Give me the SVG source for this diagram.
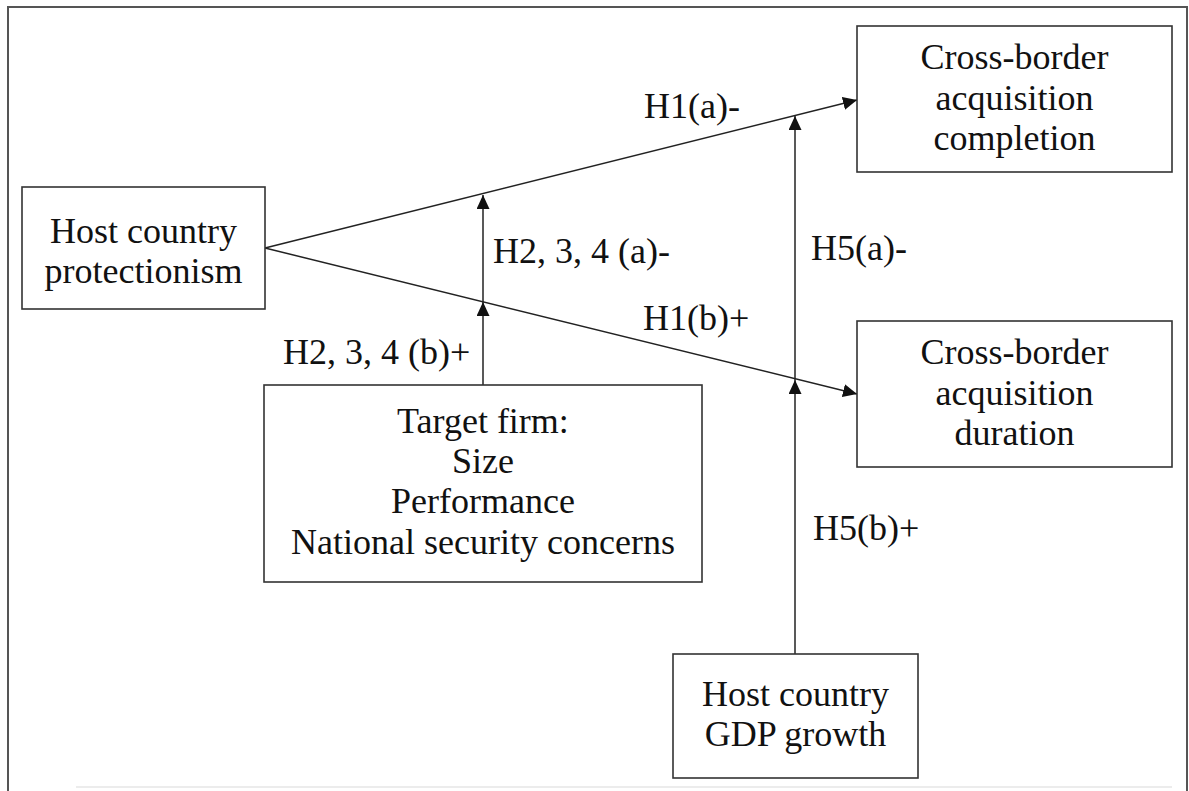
<svg xmlns="http://www.w3.org/2000/svg" width="1189" height="791" viewBox="0 0 1189 791">
  <style>
    .box { fill: #ffffff; stroke: #333333; stroke-width: 1.6; }
    .t { font-family: "Liberation Serif", "Times New Roman", serif; font-size: 36px; fill: #111111; }
    .c { text-anchor: middle; }
    .conn { fill: none; stroke: #222222; stroke-width: 1.5; marker-end: url(#arrow); }
  </style>
  <defs>
    <marker id="arrow" markerUnits="userSpaceOnUse" markerWidth="15" markerHeight="14" refX="14" refY="6.5" orient="auto">
      <path d="M0,0 L14,6.5 L0,13 z" fill="#111111"/>
    </marker>
  </defs>
  <rect x="0" y="0" width="1189" height="791" fill="#ffffff"/>
  <g id="frame">
    <path d="M8,791 V7 H1187 V791" fill="none" stroke="#555555" stroke-width="2"/>
    <line x1="76" y1="787" x2="1172" y2="787" stroke="#e6e6e6" stroke-width="1.5"/>
  </g>

  <g id="connectors">
    <path class="conn" d="M265,248 L857,100"/>
    <path class="conn" d="M265,248 L857,394"/>
    <path class="conn" d="M483,385 V302"/>
    <path class="conn" d="M483,302 V195"/>
    <path class="conn" d="M795,654 V380"/>
    <path class="conn" d="M795,380 V116"/>
  </g>

  <g id="host-protectionism">
    <rect class="box" x="22" y="187" width="243" height="122"/>
    <text class="t c" x="143.5" y="243">Host country</text>
    <text class="t c" x="143.5" y="283">protectionism</text>
  </g>

  <g id="completion">
    <rect class="box" x="857" y="26" width="315" height="146"/>
    <text class="t c" x="1014.5" y="69">Cross-border</text>
    <text class="t c" x="1014.5" y="110">acquisition</text>
    <text class="t c" x="1014.5" y="150">completion</text>
  </g>

  <g id="duration">
    <rect class="box" x="857" y="321" width="315" height="146"/>
    <text class="t c" x="1014.5" y="364">Cross-border</text>
    <text class="t c" x="1014.5" y="405">acquisition</text>
    <text class="t c" x="1014.5" y="445">duration</text>
  </g>

  <g id="target-firm">
    <rect class="box" x="264" y="385" width="438" height="197"/>
    <text class="t c" x="483" y="433">Target firm:</text>
    <text class="t c" x="483" y="473">Size</text>
    <text class="t c" x="483" y="513">Performance</text>
    <text class="t c" x="483" y="554">National security concerns</text>
  </g>

  <g id="gdp-growth">
    <rect class="box" x="673" y="654" width="245" height="124"/>
    <text class="t c" x="795.5" y="706">Host country</text>
    <text class="t c" x="795.5" y="746">GDP growth</text>
  </g>

  <g id="labels">
    <text class="t" x="644" y="118">H1(a)-</text>
    <text class="t" x="493" y="263">H2, 3, 4 (a)-</text>
    <text class="t" x="643" y="330">H1(b)+</text>
    <text class="t" x="283" y="364">H2, 3, 4 (b)+</text>
    <text class="t" x="811" y="260">H5(a)-</text>
    <text class="t" x="813" y="540">H5(b)+</text>
  </g>
</svg>
